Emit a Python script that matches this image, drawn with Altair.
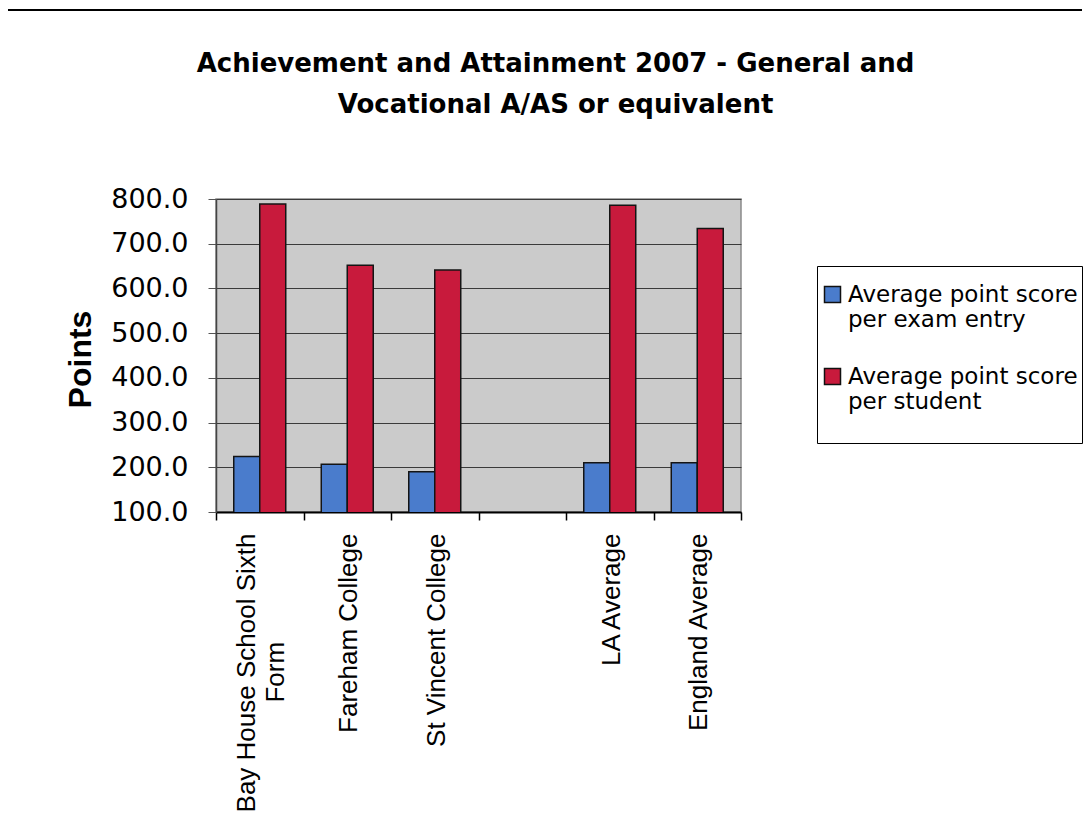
import altair as alt
import pandas as pd

# ---- data ----
schools = ["Bay House School Sixth Form", "Fareham College", "St Vincent College",
           "LA Average", "England Average"]
slots = ["Bay House School Sixth Form", "Fareham College", "St Vincent College", " ",
         "LA Average", "England Average"]
series = ["Average point score per exam entry", "Average point score per student"]
per_entry = [224, 207, 190, 210, 210]
per_student = [789, 652, 641, 786, 734]
y_ticks = [100, 200, 300, 400, 500, 600, 700, 800]
colors = ["#4a7ccc", "#c81a3c"]
title_lines = ["Achievement and Attainment 2007 - General and",
               "Vocational A/AS or equivalent"]

rows = []
for s, a, b in zip(schools, per_entry, per_student):
    rows.append({"school": s, "series": series[0], "value": a})
    rows.append({"school": s, "series": series[1], "value": b})
df = pd.DataFrame(rows)

# long label wraps onto two lines (second one padded so it sits centred);
# half-height line spacing with a spacer line lets short labels sit centred.
zw = "\u200b"
pad = "\u00a0" * 15 + zw
x_label_expr = ("length(datum.label) > 20 ? [slice(datum.label, 0, lastindexof(datum.label, ' ')), '" + zw + "', "
                "slice(datum.label, lastindexof(datum.label, ' ') + 1) + '" + pad + "'] : ['', datum.label]")
legend_label_expr = ("[split(datum.label, ' per ')[0], 'per ' + split(datum.label, ' per ')[1], '']")

bars = alt.Chart(df).mark_bar(stroke="#141414", strokeWidth=1.5, clip=True).encode(
    x=alt.X("school:N", sort=slots,
            scale=alt.Scale(domain=slots, paddingInner=0, paddingOuter=0),
            axis=alt.Axis(title=None, labelAngle=270, labelAlign="right",
                          labelBaseline="bottom", labelPadding=13,
                          labelFont="Liberation Sans", labelFontSize=26, labelColor="black",
                          labelLineHeight=14.5, labelLimit=0,
                          labelExpr=x_label_expr,
                          tickBand="extent", ticks=True, tickSize=8, tickColor="black",
                          tickWidth=1.5, domainColor="black", domainWidth=2, grid=False)),
    xOffset=alt.XOffset("series:N", sort=series,
                        scale=alt.Scale(domain=series, paddingInner=0, paddingOuter=0.683)),
    y=alt.Y("value:Q",
            scale=alt.Scale(domain=[100, 800], nice=False, zero=False),
            axis=alt.Axis(values=y_ticks, format=".1f", labelFont="DejaVu Sans",
                          labelFontSize=27, labelColor="black", labelPadding=20,
                          tickSize=8, tickColor="#555555", tickWidth=1,
                          domainColor="#444444", domainWidth=1.5,
                          grid=True, gridColor="#3a3a3a", gridWidth=1,
                          title="Points", titleFont="Liberation Sans", titleFontSize=32,
                          titleFontWeight="bold", titleColor="black", titleAngle=270,
                          titleAlign="center", titleBaseline="middle",
                          titleX=-136, titleY=160)),
    color=alt.Color("series:N", sort=series,
                    scale=alt.Scale(domain=series, range=colors),
                    legend=alt.Legend(orient="none", legendX=601, legendY=67,
                                      title=" ", titleFontSize=10, titlePadding=3,
                                      padding=4, strokeColor="black", fillColor="white",
                                      symbolType="square", symbolSize=256,
                                      symbolStrokeColor="#111111", symbolStrokeWidth=1.5,
                                      labelFont="DejaVu Sans", labelFontSize=23,
                                      labelColor="black", labelLimit=0, labelOffset=4,
                                      labelBaseline="middle", rowPadding=8,
                                      labelExpr=legend_label_expr)),
)

# outer frame of the chart object (top and left edges), kept inside the drawing
frame_src = pd.DataFrame({"k": [0]})
frame_top = alt.Chart(frame_src).mark_rule(color="black", strokeWidth=2).encode(
    x=alt.value(-210), x2=alt.value(866), y=alt.value(-189))
frame_left = alt.Chart(frame_src).mark_rule(color="black", strokeWidth=2).encode(
    x=alt.value(-210), y=alt.value(-189), y2=alt.value(611))

chart = alt.layer(bars, frame_top, frame_left).properties(
    width=525, height=313,
    padding={"left": 208, "top": 191, "right": 343, "bottom": 300},
    autosize=alt.AutoSizeParams(type="none"),
    background="white",
    title=alt.TitleParams(text=title_lines, font="DejaVu Sans", fontSize=26,
                          fontWeight="bold", color="black", lineHeight=41,
                          anchor="middle", dx=77, offset=-109),
).configure_view(fill="#cbcbcb", stroke="#8a8a8a", strokeWidth=1.5)

chart.save("out.html", embed_options={"renderer": "svg", "actions": False})
